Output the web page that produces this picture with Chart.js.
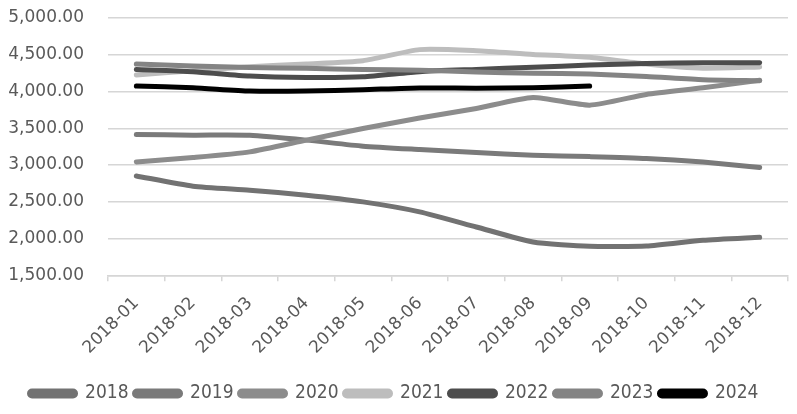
<!DOCTYPE html>
<html>
<head>
<meta charset="utf-8">
<script src="https://cdn.jsdelivr.net/npm/chart.js@4"></script>
<style>
  html, body { margin: 0; padding: 0; background: #ffffff; }
  #wrap { width: 797px; height: 414px; }
</style>
</head>
<body>
<div id="wrap"><canvas id="c" width="797" height="414"></canvas></div>
<script>
const categories = ["2018-01","2018-02","2018-03","2018-04","2018-05","2018-06","2018-07","2018-08","2018-09","2018-10","2018-11","2018-12"];
const seriesNames = ["2018","2019","2020","2021","2022","2023","2024"];
const s2018 = [2852, 2712, 2658, 2590, 2499, 2363, 2158, 1954, 1895, 1899, 1977, 2018];
const s2019 = [3416, 3407, 3405, 3339, 3257, 3211, 3170, 3134, 3115, 3090, 3040, 2967];
const s2020 = [3043, 3102, 3179, 3339, 3497, 3640, 3770, 3920, 3815, 3960, 4050, 4152];
const s2021 = [4224, 4283, 4337, 4374, 4419, 4570, 4555, 4505, 4465, 4375, 4318, 4335];
const s2022 = [4301, 4270, 4210, 4192, 4201, 4270, 4301, 4330, 4360, 4380, 4392, 4392];
const s2023 = [4374, 4346, 4328, 4315, 4301, 4290, 4265, 4250, 4237, 4205, 4160, 4146];
const s2024 = [4074, 4051, 4006, 4006, 4025, 4048, 4045, 4051, 4074];
const yTicks = [1500, 2000, 2500, 3000, 3500, 4000, 4500, 5000];

const seriesData = [s2018, s2019, s2020, s2021, s2022, s2023, s2024];
const seriesColors = ["#727272", "#7a7a7a", "#8c8c8c", "#bdbdbd", "#4d4d4d", "#848484", "#000000"];

const datasets = seriesNames.map((name, i) => ({
  label: name,
  data: seriesData[i],
  borderColor: seriesColors[i],
  backgroundColor: seriesColors[i],
  borderWidth: 5,
  borderCapStyle: 'round',
  borderJoinStyle: 'round',
  pointRadius: 0,
  pointHoverRadius: 0,
  tension: 0.2,
  fill: false,
  order: seriesNames.length - i
}));

new Chart(document.getElementById('c'), {
  type: 'line',
  data: { labels: categories, datasets: datasets },
  options: {
    responsive: false,
    animation: false,
    devicePixelRatio: 1,
    layout: { padding: { top: 0, right: 9, left: 0, bottom: 1 } },
    plugins: {
      tooltip: { enabled: false },
      legend: {
        position: 'bottom',
        labels: {
          sort: (a, b) => a.datasetIndex - b.datasetIndex,
          boxWidth: 46,
          boxHeight: 5,
          useBorderRadius: true,
          borderRadius: 2.5,
          padding: 6,
          color: '#595959',
          font: { family: "'DejaVu Sans Condensed', 'Liberation Sans Narrow', 'DejaVu Sans'", size: 19 }
        }
      }
    },
    scales: {
      x: {
        offset: true,
        grid: { display: true, drawOnChartArea: false, drawTicks: true, tickLength: 6, offset: true, color: '#d6d6d6', lineWidth: 1.5 },
        border: { display: true, color: '#d6d6d6', width: 1.5 },
        ticks: {
          color: '#595959',
          font: { family: 'DejaVu Sans', size: 17 },
          minRotation: 45,
          maxRotation: 45,
          padding: 12,
          autoSkip: false
        },
        afterFit: (s) => { s.paddingLeft = 0; s.paddingRight = 0; s.height += 8; }
      },
      y: {
        min: yTicks[0],
        max: yTicks[yTicks.length - 1],
        afterBuildTicks: (axis) => { axis.ticks = yTicks.map(v => ({ value: v })); },
        afterFit: (s) => { s.width = 108; s.paddingTop = 18; s.paddingBottom = 0; },
        grid: { color: '#d6d6d6', lineWidth: 1.5, drawTicks: false },
        border: { display: false },
        ticks: {
          color: '#595959',
          font: { family: 'DejaVu Sans', size: 17 },
          padding: 24,
          callback: (v) => Number(v).toLocaleString('en-US', { minimumFractionDigits: 2, maximumFractionDigits: 2 })
        }
      }
    }
  }
});
</script>
</body>
</html>
